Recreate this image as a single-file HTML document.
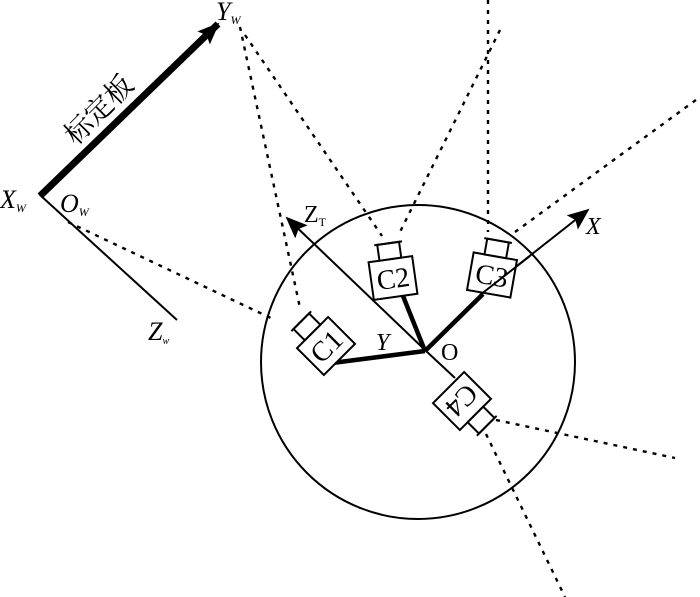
<!DOCTYPE html>
<html><head><meta charset="utf-8"><style>
html,body{margin:0;padding:0;background:#fff}
svg{display:block}
text{font-family:"Liberation Serif","Noto Serif CJK SC",serif;fill:#000}
</style></head><body>
<svg width="700" height="597" viewBox="0 0 700 597" xmlns="http://www.w3.org/2000/svg">
<defs>
<marker id="ah2" markerWidth="22" markerHeight="18" refX="20" refY="9" orient="auto" markerUnits="userSpaceOnUse" viewBox="0 0 22 18">
<path d="M0,0 L22,9 L0,18 L4,9 z" fill="#000"/>
</marker>
<g id="cam">
<rect x="-22" y="-19" width="44" height="38" fill="#fff" stroke="#000" stroke-width="2"/>
<rect x="-11" y="-35" width="22" height="16" fill="#fff" stroke="#000" stroke-width="2"/>
<line x1="-14" y1="-35" x2="14" y2="-35" stroke="#000" stroke-width="2"/>
</g>
</defs>
<g fill="none" stroke="#000" stroke-width="2.4" stroke-dasharray="4,6">
<line x1="240" y1="27" x2="300" y2="308"/>
<line x1="245" y1="35" x2="382" y2="236"/>
<line x1="68" y1="222" x2="275" y2="320"/>
<line x1="500" y1="30" x2="398" y2="236"/>
<line x1="488" y1="0" x2="488" y2="232"/>
<line x1="515" y1="232" x2="700" y2="97"/>
<line x1="496" y1="420" x2="675" y2="458"/>
<line x1="486" y1="434" x2="565" y2="597"/>
</g>
<circle cx="418" cy="362" r="157" fill="none" stroke="#000" stroke-width="2"/>
<line x1="40" y1="195" x2="177" y2="320" stroke="#000" stroke-width="2"/>
<line x1="40" y1="196" x2="218" y2="24" stroke="#000" stroke-width="7" marker-end="url(#ah2)"/>
<line x1="425" y1="350" x2="287" y2="218" stroke="#000" stroke-width="2" marker-end="url(#ah2)"/>
<line x1="480" y1="295" x2="588" y2="210" stroke="#000" stroke-width="2" marker-end="url(#ah2)"/>
<line x1="425" y1="350" x2="455" y2="378" stroke="#000" stroke-width="2"/>
<g stroke="#000" stroke-width="4.5">
<line x1="425" y1="351" x2="332" y2="363"/>
<line x1="425" y1="351" x2="403" y2="296"/>
</g>
<g transform="translate(326,346) rotate(-45)"><use href="#cam"/><text x="0" y="10" font-size="28" text-anchor="middle">C1</text></g>
<g transform="translate(393,278) rotate(-8)"><use href="#cam"/><text x="0" y="10" font-size="28" text-anchor="middle">C2</text></g>
<g transform="translate(492,275) rotate(10)"><use href="#cam"/><text x="0" y="10" font-size="28" text-anchor="middle">C3</text></g>
<g transform="translate(462,401) rotate(135)"><use href="#cam"/><text x="0" y="10" font-size="28" text-anchor="middle">C4</text></g>
<line x1="425" y1="351" x2="483" y2="294" stroke="#000" stroke-width="4.5"/>
<line x1="480" y1="295" x2="530" y2="256" stroke="#000" stroke-width="2"/>
<text x="376" y="350" font-size="24" font-style="italic">Y</text>
<text x="441" y="360" font-size="24">O</text>
<text x="586" y="234" font-size="24" font-style="italic">X</text>
<text x="304" y="222" font-size="24">Z<tspan font-size="12" dy="4">T</tspan></text>
<text x="216" y="20" font-size="26" font-style="italic">Y<tspan font-size="12" dy="4">W</tspan></text>
<text x="0" y="208" font-size="26" font-style="italic">X<tspan font-size="12" dy="4">W</tspan></text>
<text x="60" y="212" font-size="26" font-style="italic">O<tspan font-size="12" dy="4">W</tspan></text>
<text x="148" y="340" font-size="26" font-style="italic">Z<tspan font-size="10" dy="4">w</tspan></text>
<text x="0" y="0" font-size="28" transform="translate(76,146) rotate(-45)" style="font-family:'Noto Serif CJK SC','Noto Sans CJK SC',serif">标定板</text>
</svg>
</body></html>
